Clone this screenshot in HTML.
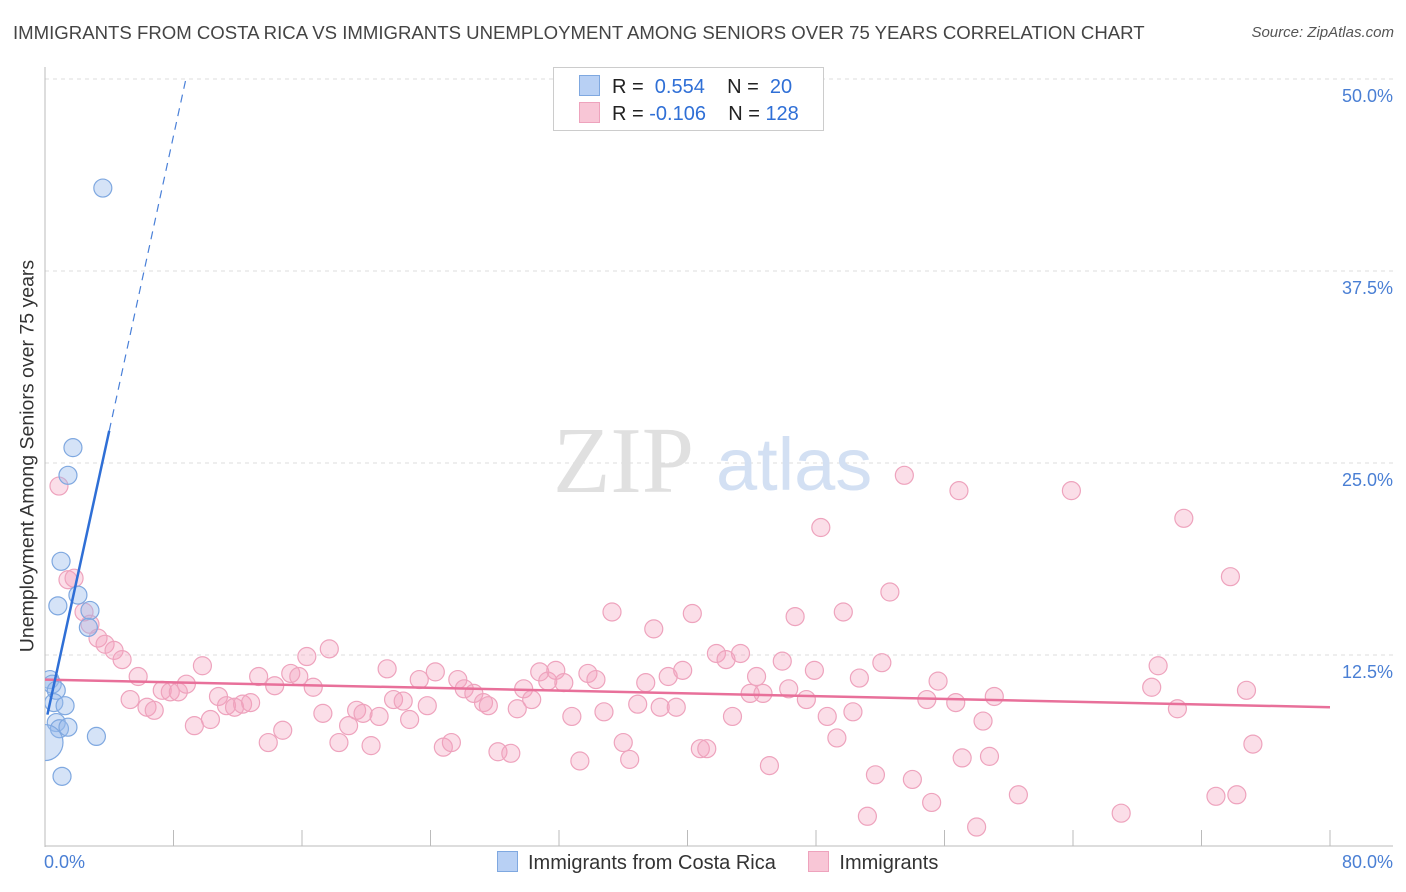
<!DOCTYPE html>
<html><head><meta charset="utf-8"><style>
body{margin:0;background:#fff;font-family:"Liberation Sans",sans-serif;}
#wrap{position:relative;width:1406px;height:892px;overflow:hidden;}
</style></head><body>
<div id="wrap">
<svg id="svg" width="1406" height="892" xmlns="http://www.w3.org/2000/svg"><defs><clipPath id="plotclip"><rect x="45" y="60" width="1360" height="790"/></clipPath></defs></svg>
</div>
<script>
const blueX=[3.6,1.74,1.43,1.0,0.8,2.05,2.8,2.7,0.3,0.45,0.7,0.55,1.25,0.7,0.9,1.43,3.2,1.06,0];
const blueY=[42.9,26.0,24.2,18.6,15.7,16.4,15.4,14.3,10.9,10.6,10.2,9.4,9.2,8.1,7.7,7.8,7.2,4.6,6.8];
const blueR=[9,9,9,9,9,9,9,9,9,9,9,9,9,9,9,9,9,9,18];
const pinkX=[0.87,1.43,1.81,2.43,2.8,3.3,3.74,4.3,4.8,5.8,5.3,6.35,6.8,7.3,7.8,8.3,8.8,9.3,9.8,10.3,10.8,11.3,11.8,12.3,12.8,13.3,13.9,14.3,14.8,15.3,15.8,16.3,16.7,17.3,17.7,18.3,18.9,19.4,19.8,20.3,20.8,21.3,21.7,22.3,22.7,23.3,23.8,24.3,24.8,25.3,25.7,26.1,26.7,27.3,27.6,28.2,29.0,29.4,29.8,30.3,30.8,31.3,31.8,32.3,32.8,33.3,33.8,34.3,34.8,35.3,36.0,36.4,36.9,37.4,37.9,38.3,38.8,39.3,39.7,40.3,40.8,41.2,41.8,42.4,42.8,43.3,43.9,44.3,44.7,45.1,45.9,46.3,46.7,47.4,47.9,48.3,48.7,49.3,49.7,50.3,50.7,51.2,51.7,52.1,52.6,53.5,54.0,54.9,55.2,55.6,56.7,56.9,57.1,58.4,58.8,59.1,60.6,63.9,67.0,68.9,69.3,70.5,70.9,72.9,73.8,74.2,74.8,75.2,58.0];
const pinkY=[23.5,17.4,17.5,15.3,14.5,13.6,13.2,12.8,12.2,11.1,9.6,9.1,8.9,10.2,10.1,10.1,10.6,7.9,11.8,8.3,9.8,9.2,9.1,9.3,9.4,11.1,6.8,10.5,7.6,11.3,11.1,12.4,10.4,8.7,12.9,6.8,7.9,8.9,8.7,6.6,8.5,11.6,9.6,9.5,8.3,10.9,9.2,11.4,6.5,6.8,10.9,10.3,10.0,9.4,9.2,6.2,6.1,9.0,10.3,9.6,11.4,10.8,11.5,10.7,8.5,5.6,11.3,10.9,8.8,15.3,6.8,5.7,9.3,10.7,14.2,9.1,11.1,9.1,11.5,15.2,6.4,6.4,12.6,12.2,8.5,12.6,10.0,11.1,10.0,5.3,12.1,10.3,15.0,9.6,11.5,20.8,8.5,7.1,15.3,8.8,11.0,2.0,4.7,12.0,16.6,24.2,4.4,9.6,2.9,10.8,9.4,23.2,5.8,8.2,5.9,9.8,3.4,23.2,2.2,10.4,11.8,9.0,21.4,3.3,17.6,3.4,10.2,6.7,1.3];
const yTicks=[12.5,25.0,37.5,50.0];
const yTickLabels=["12.5%","25.0%","37.5%","50.0%"];
const xTicks=[0,8,16,24,32,40,48,56,64,72,80];
const blueLine=[7.9,4.8];   // intercept, slope
const pinkLine=[10.9,-0.0225];

const NS="http://www.w3.org/2000/svg";
const svg=document.getElementById('svg');
const X=v=>45+v*(1285/80);
const Y=v=>847-v*(192/12.5);
function mk(t,a,parent){const e=document.createElementNS(NS,t);for(const k in a)e.setAttribute(k,a[k]);(parent||svg).appendChild(e);return e;}

yTicks.forEach((t,i)=>{
 const g=mk('line',{x1:45,x2:1393,y1:Y(t),y2:Y(t),stroke:'#ddd','stroke-dasharray':'4,4'});
 
 
 const l=mk('text',{x:1393,y:Y(t)+23,'text-anchor':'end','font-size':18,fill:'#4a7fd4'});
 l.textContent=yTickLabels[i];
 
 
});
const ax=mk('line',{x1:45,x2:45,y1:67,y2:847,stroke:'#bbb'});


const bx=mk('line',{x1:45,x2:1393,y1:846,y2:846,stroke:'#bbb'});


xTicks.forEach(t=>{
 const tk=mk('line',{x1:X(t),x2:X(t),y1:830,y2:846,stroke:'#bbb'});
 
 
});
const wm=mk('text',{x:553,y:492,'font-size':94,fill:'#e0e0e0','font-family':'Liberation Serif,serif'});
wm.textContent='ZIP';


const wm2=mk('text',{x:716,y:490,'font-size':74,fill:'#d3e0f3'});
wm2.textContent='atlas';



const plot=mk('g',{'clip-path':'url(#plotclip)'});


pinkX.forEach((x,i)=>{
 const c=mk('circle',{cx:X(x),cy:Y(pinkY[i]),r:9,fill:'rgba(244,160,190,0.35)',stroke:'#eea3bd','stroke-width':1.2},plot);
 
 
});
blueX.forEach((x,i)=>{
 const c=mk('circle',{cx:X(x),cy:Y(blueY[i]),r:blueR[i],fill:'rgba(150,185,235,0.4)',stroke:'#7fa8e0','stroke-width':1.2},plot);
 
 
});
const pl=mk('line',{x1:X(0),y1:Y(pinkLine[0]),x2:X(80),y2:Y(pinkLine[0]+pinkLine[1]*80),stroke:'#e8709a','stroke-width':2.5});


const bx0=0.15,bx1=4.0,bx2=(50-blueLine[0])/blueLine[1];
const bl=mk('line',{x1:X(bx0),y1:Y(blueLine[0]+blueLine[1]*bx0),x2:X(bx1),y2:Y(blueLine[0]+blueLine[1]*bx1),stroke:'#2f6fd6','stroke-width':2.5});


const bd=mk('line',{x1:X(bx1),y1:Y(blueLine[0]+blueLine[1]*bx1),x2:X(bx2),y2:Y(50),stroke:'#4a80d8','stroke-width':1.2,'stroke-dasharray':'8,6'});


</script>
<div style="position:absolute;left:13px;top:22px;font-size:18.6px;color:#444;white-space:nowrap;">IMMIGRANTS FROM COSTA RICA VS IMMIGRANTS UNEMPLOYMENT AMONG SENIORS OVER 75 YEARS CORRELATION CHART</div>
<div style="position:absolute;right:12px;top:24px;font-size:15px;color:#555;font-style:italic;">Source: ZipAtlas.com</div>
<div style="position:absolute;left:28px;top:456px;transform:translate(-50%,-50%) rotate(-90deg);white-space:nowrap;font-size:19.5px;color:#333;">Unemployment Among Seniors over 75 years</div>
<div style="position:absolute;left:44px;top:852px;font-size:18px;color:#4a7fd4;">0.0%</div>
<div style="position:absolute;right:13px;top:852px;font-size:18px;color:#4a7fd4;">80.0%</div>
<div style="position:absolute;left:553px;top:67px;width:269px;height:62px;border:1px solid #ccc;background:#fff;font-size:20px;color:#222;">
 <div style="position:absolute;left:25px;top:7px;white-space:nowrap;"><span style="display:inline-block;width:19px;height:19px;background:#b8d0f4;border:1px solid #7fa8e0;vertical-align:-3px;margin-right:12px;"></span>R = &nbsp;<span style="color:#2f6fd6">0.554</span>&nbsp;&nbsp;&nbsp; N = &nbsp;<span style="color:#2f6fd6">20</span></div>
 <div style="position:absolute;left:25px;top:34px;white-space:nowrap;"><span style="display:inline-block;width:19px;height:19px;background:#f8c6d6;border:1px solid #eea3bd;vertical-align:-3px;margin-right:12px;"></span>R = <span style="color:#2f6fd6">-0.106</span>&nbsp;&nbsp;&nbsp; N = <span style="color:#2f6fd6">128</span></div>
</div>
<div style="position:absolute;left:497px;top:851px;font-size:20px;color:#333;white-space:nowrap;">
 <span><span style="display:inline-block;width:19px;height:19px;background:#b8d0f4;border:1px solid #7fa8e0;vertical-align:-3px;margin-right:10px;"></span>Immigrants from Costa Rica</span>
 <span style="margin-left:27px;"><span style="display:inline-block;width:19px;height:19px;background:#f8c6d6;border:1px solid #eea3bd;vertical-align:-3px;margin-right:10px;"></span>Immigrants</span>
</div>
</body></html>
